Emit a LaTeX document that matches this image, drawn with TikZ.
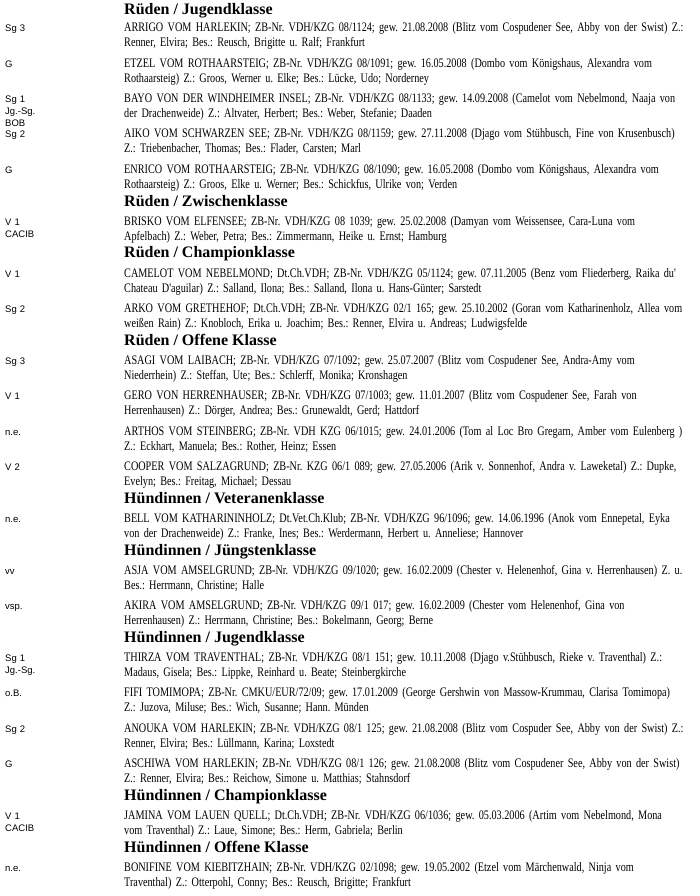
\documentclass[tikz,border=0pt]{standalone}
\usepackage{fontspec}
\setmainfont{Liberation Serif}
\newfontfamily\bodyserif{Liberation Serif}[FakeStretch=0.785]
\newfontfamily\headserif{Liberation Serif}
\newfontfamily\awardsans{Liberation Sans}
\newcommand\entryfont{\bodyserif\fontsize{13}{15}\selectfont}
\newcommand\headfont{\headserif\bfseries\fontsize{16}{18}\selectfont}
\newcommand\awardfont{\awardsans\fontsize{9.5}{12}\selectfont}
\tikzset{ %all sizes in pixels of the page
  {heading/.style} ={anchor=base west, inner sep=0, font=\headfont},
  {dogentry/.style} ={anchor=base west, inner sep=0, text width=620pt,
                      align=left, font=\entryfont},
  {award/.style} ={anchor=base west, inner sep=0, text width=40pt,
                   align=left, font=\awardfont},
}

\begin{document}
\frenchspacing
\begin{tikzpicture}[x=1pt,y=-1pt]
\path[use as bounding box, fill=white] (0,0) rectangle (700,896);
% Rueden
\node[heading] (h1) at (124,14.5) {Rüden / Jugendklasse};
\node[award] (a1) at (5,32) {Sg 3};
\node[dogentry] (e1) at (124,32) {ARRIGO VOM HARLEKIN; ZB-Nr. VDH/KZG 08/1124; gew. 21.08.2008 (Blitz vom Cospudener See, Abby von der Swist) Z.:\\
Renner, Elvira; Bes.: Reusch, Brigitte u. Ralf; Frankfurt};
\node[award] (a2) at (5,67.1) {G};
\node[dogentry] (e2) at (124,67.1) {ETZEL VOM ROTHAARSTEIG; ZB-Nr. VDH/KZG 08/1091; gew. 16.05.2008 (Dombo vom Königshaus, Alexandra vom\\
Rothaarsteig) Z.: Groos, Werner u. Elke; Bes.: Lücke, Udo; Norderney};
\node[award] (a3) at (5,102.5) {Sg 1\\ Jg.-Sg.\\ BOB};
\node[dogentry] (e3) at (124,102.5) {BAYO VON DER WINDHEIMER INSEL; ZB-Nr. VDH/KZG 08/1133; gew. 14.09.2008 (Camelot vom Nebelmond, Naaja von\\
der Drachenweide) Z.: Altvater, Herbert; Bes.: Weber, Stefanie; Daaden};
\node[award] (a4) at (5,138) {Sg 2};
\node[dogentry] (e4) at (124,138) {AIKO VOM SCHWARZEN SEE; ZB-Nr. VDH/KZG 08/1159; gew. 27.11.2008 (Djago vom Stühbusch, Fine von Krusenbusch)\\
Z.: Triebenbacher, Thomas; Bes.: Flader, Carsten; Marl};
\node[award] (a5) at (5,173.4) {G};
\node[dogentry] (e5) at (124,173.4) {ENRICO VOM ROTHAARSTEIG; ZB-Nr. VDH/KZG 08/1090; gew. 16.05.2008 (Dombo vom Königshaus, Alexandra vom\\
Rothaarsteig) Z.: Groos, Elke u. Werner; Bes.: Schickfus, Ulrike von; Verden};
\node[heading] (h2) at (124,206.1) {Rüden / Zwischenklasse};
\node[award] (a6) at (5,225.2) {V 1\\ CACIB};
\node[dogentry] (e6) at (124,225.2) {BRISKO VOM ELFENSEE; ZB-Nr. VDH/KZG 08 1039; gew. 25.02.2008 (Damyan vom Weissensee, Cara-Luna vom\\
Apfelbach) Z.: Weber, Petra; Bes.: Zimmermann, Heike u. Ernst; Hamburg};
\node[heading] (h3) at (124,257.9) {Rüden / Championklasse};
\node[award] (a7) at (5,277) {V 1};
\node[dogentry] (e7) at (124,277) {CAMELOT VOM NEBELMOND; Dt.Ch.VDH; ZB-Nr. VDH/KZG 05/1124; gew. 07.11.2005 (Benz vom Fliederberg, Raika du'\\
Chateau D'aguilar) Z.: Salland, Ilona; Bes.: Salland, Ilona u. Hans-Günter; Sarstedt};
\node[award] (a8) at (5,312.5) {Sg 2};
\node[dogentry] (e8) at (124,312.5) {ARKO VOM GRETHEHOF; Dt.Ch.VDH; ZB-Nr. VDH/KZG 02/1 165; gew. 25.10.2002 (Goran vom Katharinenholz, Allea vom\\
weißen Rain) Z.: Knobloch, Erika u. Joachim; Bes.: Renner, Elvira u. Andreas; Ludwigsfelde};
\node[heading] (h4) at (124,345.2) {Rüden / Offene Klasse};
\node[award] (a9) at (5,364.3) {Sg 3};
\node[dogentry] (e9) at (124,364.3) {ASAGI VOM LAIBACH; ZB-Nr. VDH/KZG 07/1092; gew. 25.07.2007 (Blitz vom Cospudener See, Andra-Amy vom\\
Niederrhein) Z.: Steffan, Ute; Bes.: Schlerff, Monika; Kronshagen};
\node[award] (a10) at (5,399.7) {V 1};
\node[dogentry] (e10) at (124,399.7) {GERO VON HERRENHAUSER; ZB-Nr. VDH/KZG 07/1003; gew. 11.01.2007 (Blitz vom Cospudener See, Farah von\\
Herrenhausen) Z.: Dörger, Andrea; Bes.: Grunewaldt, Gerd; Hattdorf};
\node[award] (a11) at (5,435.2) {n.e.};
\node[dogentry] (e11) at (124,435.2) {ARTHOS VOM STEINBERG; ZB-Nr. VDH KZG 06/1015; gew. 24.01.2006 (Tom al Loc Bro Gregarn, Amber vom Eulenberg )\\
Z.: Eckhart, Manuela; Bes.: Rother, Heinz; Essen};
\node[award] (a12) at (5,470.6) {V 2};
\node[dogentry] (e12) at (124,470.6) {COOPER VOM SALZAGRUND; ZB-Nr. KZG 06/1 089; gew. 27.05.2006 (Arik v. Sonnenhof, Andra v. Laweketal) Z.: Dupke,\\
Evelyn; Bes.: Freitag, Michael; Dessau};
% Huendinnen
\node[heading] (h5) at (124,503.3) {Hündinnen / Veteranenklasse};
\node[award] (a13) at (5,522.4) {n.e.};
\node[dogentry] (e13) at (124,522.4) {BELL VOM KATHARININHOLZ; Dt.Vet.Ch.Klub; ZB-Nr. VDH/KZG 96/1096; gew. 14.06.1996 (Anok vom Ennepetal, Eyka\\
von der Drachenweide) Z.: Franke, Ines; Bes.: Werdermann, Herbert u. Anneliese; Hannover};
\node[heading] (h6) at (124,555.1) {Hündinnen / Jüngstenklasse};
\node[award] (a14) at (5,574.2) {vv};
\node[dogentry] (e14) at (124,574.2) {ASJA VOM AMSELGRUND; ZB-Nr. VDH/KZG 09/1020; gew. 16.02.2009 (Chester v. Helenenhof, Gina v. Herrenhausen) Z. u.\\
Bes.: Herrmann, Christine; Halle};
\node[award] (a15) at (5,609.6) {vsp.};
\node[dogentry] (e15) at (124,609.6) {AKIRA VOM AMSELGRUND; ZB-Nr. VDH/KZG 09/1 017; gew. 16.02.2009 (Chester vom Helenenhof, Gina von\\
Herrenhausen) Z.: Herrmann, Christine; Bes.: Bokelmann, Georg; Berne};
\node[heading] (h7) at (124,642.3) {Hündinnen / Jugendklasse};
\node[award] (a16) at (5,661.4) {Sg 1\\ Jg.-Sg.};
\node[dogentry] (e16) at (124,661.4) {THIRZA VOM TRAVENTHAL; ZB-Nr. VDH/KZG 08/1 151; gew. 10.11.2008 (Djago v.Stühbusch, Rieke v. Traventhal) Z.:\\
Madaus, Gisela; Bes.: Lippke, Reinhard u. Beate; Steinbergkirche};
\node[award] (a17) at (5,696.9) {o.B.};
\node[dogentry] (e17) at (124,696.9) {FIFI TOMIMOPA; ZB-Nr. CMKU/EUR/72/09; gew. 17.01.2009 (George Gershwin von Massow-Krummau, Clarisa Tomimopa)\\
Z.: Juzova, Miluse; Bes.: Wich, Susanne; Hann. Münden};
\node[award] (a18) at (5,732.3) {Sg 2};
\node[dogentry] (e18) at (124,732.3) {ANOUKA VOM HARLEKIN; ZB-Nr. VDH/KZG 08/1 125; gew. 21.08.2008 (Blitz vom Cospuder See, Abby von der Swist) Z.:\\
Renner, Elvira; Bes.: Lüllmann, Karina; Loxstedt};
\node[award] (a19) at (5,767.8) {G};
\node[dogentry] (e19) at (124,767.8) {ASCHIWA VOM HARLEKIN; ZB-Nr. VDH/KZG 08/1 126; gew. 21.08.2008 (Blitz vom Cospudener See, Abby von der Swist)\\
Z.: Renner, Elvira; Bes.: Reichow, Simone u. Matthias; Stahnsdorf};
\node[heading] (h8) at (124,800.5) {Hündinnen / Championklasse};
\node[award] (a20) at (5,819.6) {V 1\\ CACIB};
\node[dogentry] (e20) at (124,819.6) {JAMINA VOM LAUEN QUELL; Dt.Ch.VDH; ZB-Nr. VDH/KZG 06/1036; gew. 05.03.2006 (Artim vom Nebelmond, Mona\\
vom Traventhal) Z.: Laue, Simone; Bes.: Herm, Gabriela; Berlin};
\node[heading] (h9) at (124,852.3) {Hündinnen / Offene Klasse};
\node[award] (a21) at (5,871.4) {n.e.};
\node[dogentry] (e21) at (124,871.4) {BONIFINE VOM KIEBITZHAIN; ZB-Nr. VDH/KZG 02/1098; gew. 19.05.2002 (Etzel vom Märchenwald, Ninja vom\\
Traventhal) Z.: Otterpohl, Conny; Bes.: Reusch, Brigitte; Frankfurt};
\end{tikzpicture}
\end{document}
